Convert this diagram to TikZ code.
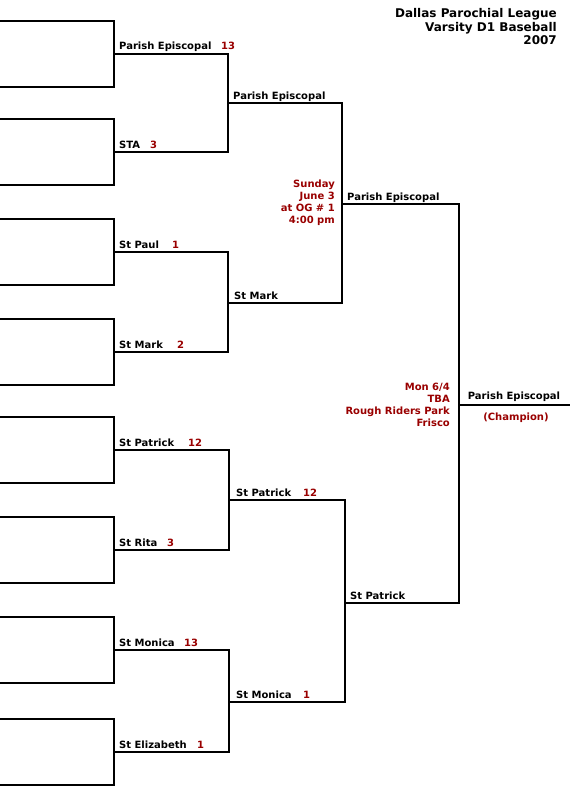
\documentclass[tikz,border=0pt]{standalone}
\usepackage{fontspec}
\setmainfont{DejaVu Sans}
\usepackage{xcolor}
\usetikzlibrary{positioning}
\definecolor{gamered}{HTML}{990000}

\begin{document}
\begin{tikzpicture}[
  x=1pt, y=-1pt,
  bracket/.style={draw=black, line width=2pt},
  team/.style={
    anchor=base west,
    inner sep=0pt,
    font=\bfseries\fontsize{10}{12}\selectfont
  },
  score/.style={team, text=gamered},
  gameinfo/.style={
    anchor=base east,
    inner sep=0pt,
    align=right,
    text=gamered,
    font=\bfseries\fontsize{10}{11.8}\selectfont
  },
  heading/.style={
    anchor=base east,
    inner sep=0pt,
    align=right,
    font=\bfseries\fontsize{12}{13.7}\selectfont
  }
]
\useasboundingbox (0,0) rectangle (570,800);

% first round slots
\coordinate (a1) at (114,54);
\coordinate (a2) at (114,152);
\coordinate (a3) at (114,252);
\coordinate (a4) at (114,352);
\coordinate (a5) at (114,450);
\coordinate (a6) at (114,550);
\coordinate (a7) at (114,650);
\coordinate (a8) at (114,752);
% second round
\coordinate (b1) at (228,103);
\coordinate (b2) at (228,303);
\coordinate (b3) at (229,500);
\coordinate (b4) at (229,702);
% semi final
\coordinate (c1) at (342,204);
\coordinate (c2) at (345,603);
% final
\coordinate (d1) at (459,405);
\coordinate (champ) at (570,405);

% empty entry boxes
\draw[bracket] (a1) ++(-114,-33) -- ++(114,0) -- ++(0,66) -- ++(-114,0);
\draw[bracket] (a2) ++(-114,-33) -- ++(114,0) -- ++(0,66) -- ++(-114,0);
\draw[bracket] (a3) ++(-114,-33) -- ++(114,0) -- ++(0,66) -- ++(-114,0);
\draw[bracket] (a4) ++(-114,-33) -- ++(114,0) -- ++(0,66) -- ++(-114,0);
\draw[bracket] (a5) ++(-114,-33) -- ++(114,0) -- ++(0,66) -- ++(-114,0);
\draw[bracket] (a6) ++(-114,-33) -- ++(114,0) -- ++(0,66) -- ++(-114,0);
\draw[bracket] (a7) ++(-114,-33) -- ++(114,0) -- ++(0,66) -- ++(-114,0);
\draw[bracket] (a8) ++(-114,-33) -- ++(114,0) -- ++(0,66) -- ++(-114,0);

% brackets
\draw[bracket] (a1) -- (a1 -| b1) -- (a2 -| b1) -- (a2);
\draw[bracket] (a3) -- (a3 -| b2) -- (a4 -| b2) -- (a4);
\draw[bracket] (a5) -- (a5 -| b3) -- (a6 -| b3) -- (a6);
\draw[bracket] (a7) -- (a7 -| b4) -- (a8 -| b4) -- (a8);
\draw[bracket] (b1) -- (b1 -| c1) -- (b2 -| c1) -- (b2);
\draw[bracket] (b3) -- (b3 -| c2) -- (b4 -| c2) -- (b4);
\draw[bracket] (c1) -- (c1 -| d1) -- (c2 -| d1) -- (c2);
\draw[bracket] (d1) -- (champ);

% first round
\node[team] (pe1) at ([xshift=5pt,yshift=4pt]a1) {Parish Episcopal};
\node[score] (pe1s) at (221,50) {13};
\node[team] (sta) at ([xshift=5pt,yshift=4pt]a2) {STA};
\node[score] (stas) at (150,148) {3};
\node[team] (paul) at ([xshift=5pt,yshift=4pt]a3) {St Paul};
\node[score] (pauls) at (172,248) {1};
\node[team] (mark1) at ([xshift=5pt,yshift=4pt]a4) {St Mark};
\node[score] (mark1s) at (177,348) {2};
\node[team] (pat1) at ([xshift=5pt,yshift=4pt]a5) {St Patrick};
\node[score] (pat1s) at (188,446) {12};
\node[team] (rita) at ([xshift=5pt,yshift=4pt]a6) {St Rita};
\node[score] (ritas) at (167,546) {3};
\node[team] (mon1) at ([xshift=5pt,yshift=4pt]a7) {St Monica};
\node[score] (mon1s) at (184,646) {13};
\node[team] (eliz) at ([xshift=5pt,yshift=4pt]a8) {St Elizabeth};
\node[score] (elizs) at (197,748) {1};

% second round
\node[team] (pe2) at ([xshift=5pt,yshift=4pt]b1) {Parish Episcopal};
\node[team] (mark2) at ([xshift=6pt,yshift=4pt]b2) {St Mark};
\node[team] (pat2) at ([xshift=7pt,yshift=4pt]b3) {St Patrick};
\node[score] (pat2s) at (303,496) {12};
\node[team] (mon2) at ([xshift=7pt,yshift=4pt]b4) {St Monica};
\node[score] (mon2s) at (303,698) {1};

% semi final (base = last line)
\node[team] (pe3) at ([xshift=5pt,yshift=4pt]c1) {Parish Episcopal};
\node[team] (pat3) at ([xshift=5pt,yshift=4pt]c2) {St Patrick};
\node[gameinfo] (semi) at (335,223) {Sunday\\June 3\\at OG \# 1\\4:00 pm};

% final
\node[team, anchor=base] (pe4) at (514,399) {Parish Episcopal};
\node[score, anchor=base] (champtxt) at (516,420) {(Champion)};
\node[gameinfo] (final) at (450,426) {Mon 6/4\\TBA\\Rough Riders Park\\Frisco};

\node[heading] (title) at (557,45) {Dallas Parochial League\\Varsity D1 Baseball\\2007};
\end{tikzpicture}
\end{document}
